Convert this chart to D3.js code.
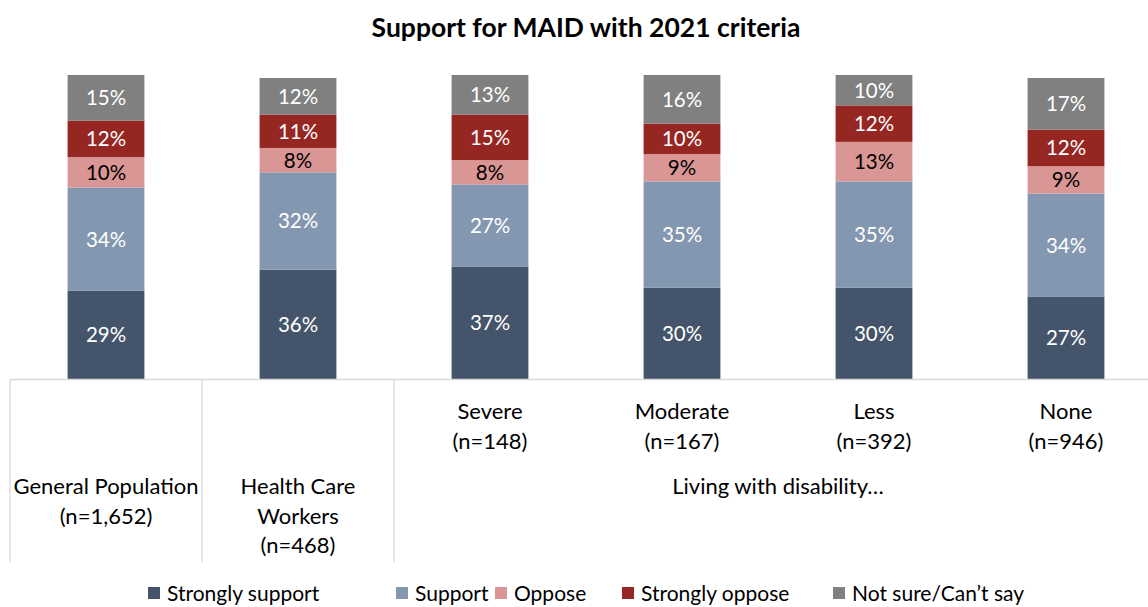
<!DOCTYPE html>
<html>
<head>
<meta charset="utf-8">
<script src="https://cdn.jsdelivr.net/npm/d3@7"></script>
<style>
  html, body { margin: 0; padding: 0; background: #fff; }
  svg { display: block; font-family: Lato, "Open Sans", sans-serif; }
</style>
</head>
<body>
<svg id="chart" width="1148" height="607"></svg>
<script>
// Groups (bars) with their inner and outer axis labels
const categories = ["gen", "hcw", "severe", "moderate", "less", "none"];
const innerLabels = [
  [],
  [],
  ["Severe", "(n=148)"],
  ["Moderate", "(n=167)"],
  ["Less", "(n=392)"],
  ["None", "(n=946)"]
];
const outerLabels = [
  { from: 0, to: 0, lines: ["General Population", "(n=1,652)"] },
  { from: 1, to: 1, lines: ["Health Care", "Workers", "(n=468)"] },
  { from: 2, to: 5, lines: ["Living with disability…"] }
];

// Response series, bottom to top
const seriesNames = ["Strongly support", "Support", "Oppose", "Strongly oppose", "Not sure/Can’t say"];
const stronglySupport = [29, 36, 37, 30, 30, 27];
const support         = [34, 32, 27, 35, 35, 34];
const oppose          = [10,  8,  8,  9, 13,  9];
const stronglyOppose  = [12, 11, 15, 10, 12, 12];
const notSure         = [15, 12, 13, 16, 10, 17];
const seriesColors = ["#44546A", "#8497B0", "#DA9694", "#962622", "#808080"];
const labelColors  = ["#ffffff", "#ffffff", "#000000", "#ffffff", "#ffffff"];

const seriesValues = [stronglySupport, support, oppose, stronglyOppose, notSure];
const rows = categories.map((c, i) => {
  const r = { cat: c };
  seriesNames.forEach((s, k) => r[s] = seriesValues[k][i]);
  return r;
});

const svg = d3.select("#chart");

// Title
svg.append("text")
  .attr("x", 586).attr("y", 37)
  .attr("text-anchor", "middle")
  .attr("font-size", 26.5).attr("font-weight", 700)
  .attr("fill", "#000")
  .text("Support for MAID with 2021 criteria");

// Scales
const x = d3.scaleBand().domain(categories).range([10, 1162]).paddingInner(0.6).paddingOuter(0.3);
const y = d3.scaleLinear().domain([0, 100]).range([379, 75]);

const stack = d3.stack().keys(seriesNames);
const stacked = stack(rows);

const layers = svg.append("g").selectAll("g")
  .data(stacked)
  .join("g")
  .attr("fill", (d, i) => seriesColors[i]);

layers.selectAll("rect")
  .data(d => d)
  .join("rect")
  .attr("x", d => x(d.data.cat))
  .attr("width", x.bandwidth())
  .attr("y", d => y(d[1]))
  .attr("height", d => y(d[0]) - y(d[1]));

// Value labels in each segment
stacked.forEach((layer, i) => {
  svg.append("g").selectAll("text")
    .data(layer)
    .join("text")
    .attr("x", d => x(d.data.cat) + x.bandwidth() / 2)
    .attr("y", d => (y(d[0]) + y(d[1])) / 2)
    .attr("dy", "0.36em")
    .attr("text-anchor", "middle")
    .attr("font-size", 20.5)
    .attr("fill", labelColors[i])
    .text(d => (d[1] - d[0]) + "%");
});

// Multi-level category axis
const axisColor = "#d9d9d9";
const axis = svg.append("g").attr("stroke", axisColor).attr("stroke-width", 1.3);
axis.append("line").attr("x1", 10).attr("x2", 1148).attr("y1", 379.5).attr("y2", 379.5);
const step = x.step();
const start = x.range()[0];
[0, 1, 2].forEach(k => {
  const xx = start + k * step;
  axis.append("line").attr("x1", xx).attr("x2", xx).attr("y1", 379.5).attr("y2", 562);
});

const axisFont = 22;

// Inner labels
svg.append("g").selectAll("text")
  .data(categories.map((c, i) => ({ c, lines: innerLabels[i] })))
  .join("text")
  .attr("text-anchor", "middle")
  .attr("font-size", axisFont)
  .attr("fill", "#000")
  .each(function (d) {
    const t = d3.select(this);
    d.lines.forEach((ln, j) => {
      t.append("tspan")
        .attr("x", x(d.c) + x.bandwidth() / 2)
        .attr("y", 411 + j * 30)
        .attr("dy", "0.36em")
        .text(ln);
    });
  });

// Outer labels
svg.append("g").selectAll("text")
  .data(outerLabels)
  .join("text")
  .attr("text-anchor", "middle")
  .attr("font-size", axisFont)
  .attr("fill", "#000")
  .each(function (d) {
    const t = d3.select(this);
    const cx = (start + d.from * step + start + (d.to + 1) * step) / 2;
    d.lines.forEach((ln, j) => {
      t.append("tspan")
        .attr("x", cx)
        .attr("y", 486.5 + j * 29.5)
        .attr("dy", "0.36em")
        .text(ln);
    });
  });

// Legend
const legendX = [148, 396, 495, 622, 833];
const legend = svg.append("g").selectAll("g")
  .data(seriesNames)
  .join("g")
  .attr("transform", (d, i) => `translate(${legendX[i]},587)`);
legend.append("rect")
  .attr("width", 12).attr("height", 12)
  .attr("fill", (d, i) => seriesColors[i]);
legend.append("text")
  .attr("x", 19).attr("y", 6).attr("dy", "0.36em")
  .attr("font-size", 21)
  .attr("fill", "#000")
  .text(d => d);
</script>
</body>
</html>
